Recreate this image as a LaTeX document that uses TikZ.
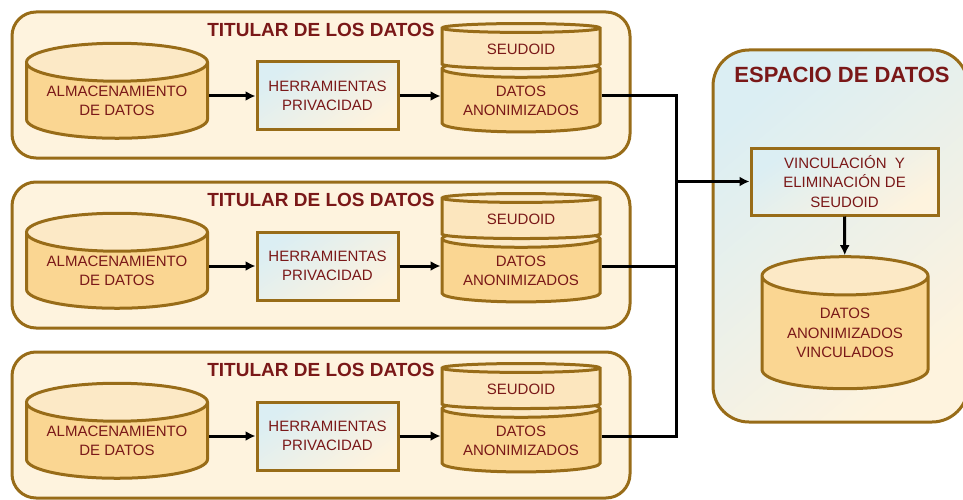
\documentclass[tikz,border=0pt]{standalone}
\usepackage{fontspec}
\setmainfont{Liberation Sans}
\usetikzlibrary{shapes.geometric,arrows.meta}
\definecolor{brd}{RGB}{152,108,24}
\definecolor{txt}{RGB}{122,24,24}
\definecolor{cream}{RGB}{254,243,222}
\definecolor{cylbody}{RGB}{250,214,146}
\definecolor{cyltop}{RGB}{252,233,198}
\definecolor{seubody}{RGB}{252,230,190}
\definecolor{lblue}{RGB}{219,238,243}
\begin{document}
\begin{tikzpicture}[x=1pt,y=-1pt,
  panel/.style={draw=brd, line width=3pt, rounded corners=24pt, fill=cream},
  title/.style={text=txt, font=\fontsize{19}{22}\selectfont\bfseries},
  txtfont/.style={text=txt, align=center, font=\fontsize{15}{19.5}\selectfont},
  cyl/.style={cylinder, shape border rotate=90, draw=brd, line width=3pt,
    cylinder uses custom fill, cylinder body fill=cylbody, cylinder end fill=cyltop,
    inner sep=0pt, txtfont},
  tool/.style={rectangle, draw=brd, line width=3pt, shading=axis, top color=lblue,
    middle color=lblue, bottom color=cream, shading angle=35, inner sep=0pt, txtfont},
  conn/.style={line width=3pt, black},
  tip/.style={-{Latex[length=10pt,width=10pt]}}
]
\useasboundingbox (0,0) rectangle (963,500);

% espacio de datos
\node[panel, rounded corners=36pt, shading=axis, top color=lblue, middle color=lblue,
  bottom color=cream, shading angle=40, minimum width=255pt, minimum height=372pt]
  (esp) at (840.5,236) {};
\node[title, font=\fontsize{22}{26}\selectfont\bfseries] (esptit) at (842,75) {ESPACIO DE DATOS};
\node[tool, minimum width=187pt, minimum height=67pt] (vinc) at (844.5,181.5)
  {VINCULACIÓN \ Y\\ELIMINACIÓN DE\\SEUDOID};
\node[cyl, minimum width=166pt, minimum height=132pt, aspect=0.33] (vin) at (845,333)
  {DATOS\\ANONIMIZADOS\\VINCULADOS};
\draw[conn, tip] (vinc) -- (vin);

% titulares
\foreach \i/\y in {1/97,2/267,3/437}{
  \node[panel, minimum width=618pt, minimum height=146pt] (pan\i) at (321,{\y-12}) {};
  \node[title] (tit\i) at (321,{\y-67}) {TITULAR DE LOS DATOS};
  \node[cyl, minimum width=181pt, minimum height=95pt, aspect=0.27] (alm\i) at (117,{\y+4})
    {ALMACENAMIENTO\\DE DATOS};
  \node[tool, minimum width=141pt, minimum height=68pt] (herr\i) at (327.5,{\y-1})
    {HERRAMIENTAS\\PRIVACIDAD};
  \node[cyl, minimum width=158pt, minimum height=72pt, aspect=0.15] (dat\i) at (521,{\y+4})
    {DATOS\\ANONIMIZADOS};
  \node[cyl, cylinder body fill=seubody, minimum width=158pt, minimum height=45pt,
    aspect=0.13] (seu\i) at (521,{\y-48}) {SEUDOID};
  \draw[conn, tip] (herr\i.west -| alm\i.east) -- (herr\i.west);
  \draw[conn, tip] (herr\i.east) -- (herr\i.east -| dat\i.west);
}

\coordinate (bus) at (676,181.5);
\draw[conn] (herr1.east -| dat1.east) -| (bus);
\draw[conn] (herr3.east -| dat3.east) -| (bus);
\draw[conn] (herr2.east -| dat2.east) -- (herr2.east -| bus);
\draw[conn, tip] (bus) -- (vinc.west);
\end{tikzpicture}
\end{document}
